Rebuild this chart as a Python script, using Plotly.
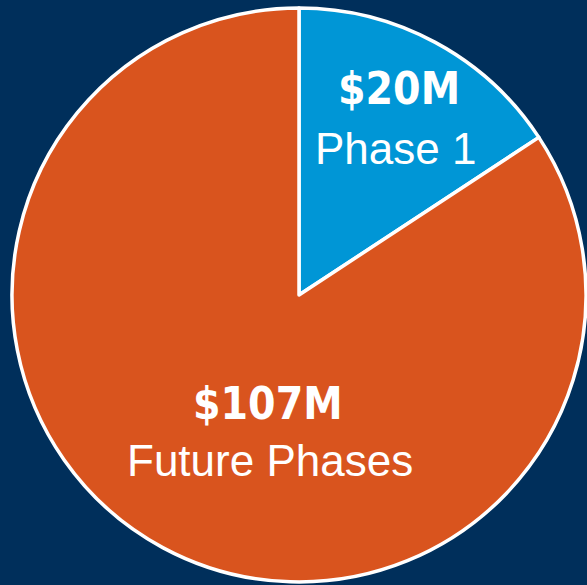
import plotly.graph_objects as go

labels = ["Phase 1", "Future Phases"]
values = [20, 107]
amounts = ["$20M", "$107M"]
colors = ["#0096D6", "#D9541E"]

W, H = 587, 585
cx, cy, r = 299, 295, 287

fig = go.Figure(go.Pie(
    labels=labels, values=values, sort=False, direction="clockwise", rotation=0,
    marker=dict(colors=colors, line=dict(color="white", width=3.5)),
    textinfo="none", hoverinfo="label+value", showlegend=False,
    domain=dict(x=[(cx - r) / W, (cx + r) / W], y=[(H - cy - r) / H, (H - cy + r) / H]),
))

def ann(text, x, y, size, family, weight="normal"):
    fig.add_annotation(
        text=text, x=x / W, y=1 - y / H, xref="paper", yref="paper",
        showarrow=False, xanchor="center", yanchor="middle",
        font=dict(family=family, size=size, color="white", weight=weight))

ann(amounts[0], 399, 88, 44, "DejaVu Sans Condensed", "bold")
ann(labels[0], 395, 148, 44, "Liberation Sans")
ann(amounts[1], 268, 403, 44, "DejaVu Sans Condensed", "bold")
ann(labels[1], 270, 460, 44, "Liberation Sans")

fig.update_layout(
    width=W, height=H, margin=dict(l=0, r=0, t=0, b=0),
    paper_bgcolor="#002F5B", plot_bgcolor="#002F5B",
)
fig.write_html("out.html", config={"displayModeBar": False},
               post_script="document.body.style.margin='0';document.body.style.overflow='hidden';document.body.style.background='#002F5B';")
